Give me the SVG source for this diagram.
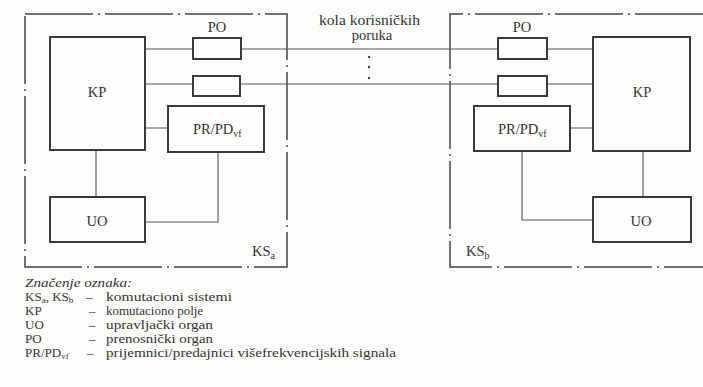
<svg xmlns="http://www.w3.org/2000/svg" width="703" height="387" viewBox="0 0 703 387">
<style>
.bg{fill:#fdfdfc}
.sys{fill:none;stroke:#444;stroke-width:1.5;stroke-dasharray:68 5 2 5}
.box{fill:none;stroke:#3a3a3a;stroke-width:2}
.ln{fill:none;stroke:#555;stroke-width:1.1}
.t{font-family:'Liberation Serif','DejaVu Serif','Times New Roman',serif;font-size:14.5px;fill:#333}
.lg{font-family:'Liberation Serif','DejaVu Serif','Times New Roman',serif;font-size:13px;fill:#333}
.it{font-style:italic}
.dot{fill:#444}
</style>
<rect class="bg" x="0" y="0" width="703" height="387"/>
<g id="ksa">
<rect class="sys" x="25" y="14" width="262" height="253"/>
<text class="t" x="252" y="256">KS<tspan dy="3" font-size="10">a</tspan></text>
</g>
<g id="ksb">
<path class="sys" d="M703,14 H450 V267 H703"/>
<text class="t" x="466" y="256">KS<tspan dy="3" font-size="10">b</tspan></text>
</g>
<g id="connectors">
<path class="ln" d="M145,49 H193 M241,49 H498 M547,49 H593"/>
<path class="ln" d="M145,84 H193 M240,84 H498 M547,84 H593"/>
<path class="ln" d="M145,128 H168 M570,128 H593"/>
<path class="ln" d="M96,150 V197 M218,152 V222 H145"/>
<path class="ln" d="M643,151 V197 M522,151 V220 H593"/>
<circle class="dot" cx="369" cy="57" r="1.2"/>
<circle class="dot" cx="369" cy="67" r="1.2"/>
<circle class="dot" cx="369" cy="78" r="1.2"/>
</g>
<g id="kp-a">
<rect class="box" x="50" y="37" width="95" height="113"/>
<text class="t" x="97" y="97" text-anchor="middle">KP</text>
</g>
<g id="po-a1">
<rect class="box" x="193" y="38" width="48" height="21"/>
<text class="t" x="217" y="32" text-anchor="middle">PO</text>
</g>
<g id="po-a2">
<rect class="box" x="193" y="76" width="47" height="20"/>
</g>
<g id="prpd-a">
<rect class="box" x="168" y="106" width="96" height="46"/>
<text class="t" x="193" y="134">PR/PD<tspan dy="3" font-size="10">vf</tspan></text>
</g>
<g id="uo-a">
<rect class="box" x="50" y="197" width="95" height="45"/>
<text class="t" x="97" y="226" text-anchor="middle">UO</text>
</g>
<g id="kp-b">
<rect class="box" x="593" y="37" width="97" height="114"/>
<text class="t" x="642" y="97" text-anchor="middle">KP</text>
</g>
<g id="po-b1">
<rect class="box" x="498" y="38" width="49" height="21"/>
<text class="t" x="522" y="32" text-anchor="middle">PO</text>
</g>
<g id="po-b2">
<rect class="box" x="498" y="76" width="49" height="20"/>
</g>
<g id="prpd-b">
<rect class="box" x="474" y="106" width="96" height="45"/>
<text class="t" x="498" y="134">PR/PD<tspan dy="3" font-size="10">vf</tspan></text>
</g>
<g id="uo-b">
<rect class="box" x="593" y="197" width="98" height="45"/>
<text class="t" x="641" y="226" text-anchor="middle">UO</text>
</g>
<g id="label-kola">
<text class="t" x="319" y="25" textLength="101" lengthAdjust="spacingAndGlyphs">kola korisničkih</text>
<text class="t" x="372" y="40" text-anchor="middle">poruka</text>
</g>
<g id="legend">
<text class="lg it" x="25" y="287" textLength="107" lengthAdjust="spacingAndGlyphs">Značenje oznaka:</text>
<text class="lg" x="25" y="301">KS<tspan dy="1.5" font-size="9">a</tspan><tspan dy="-1.5">, KS</tspan><tspan dy="1.5" font-size="9">b</tspan></text>
<text class="lg" x="86" y="301">–</text>
<text class="lg" x="106" y="301" textLength="126" lengthAdjust="spacingAndGlyphs">komutacioni sistemi</text>
<text class="lg" x="25" y="315">KP</text>
<text class="lg" x="89" y="315">–</text>
<text class="lg" x="106" y="315">komutaciono polje</text>
<text class="lg" x="25" y="329">UO</text>
<text class="lg" x="89" y="329">–</text>
<text class="lg" x="106" y="329" textLength="107" lengthAdjust="spacingAndGlyphs">upravljački organ</text>
<text class="lg" x="25" y="343">PO</text>
<text class="lg" x="89" y="343">–</text>
<text class="lg" x="106" y="343" textLength="107" lengthAdjust="spacingAndGlyphs">prenosnički organ</text>
<text class="lg" x="25" y="357">PR/PD<tspan dy="1.5" font-size="9">vf</tspan></text>
<text class="lg" x="87" y="357">–</text>
<text class="lg" x="106" y="357" textLength="290" lengthAdjust="spacingAndGlyphs">prijemnici/predajnici višefrekvencijskih signala</text>
</g>
</svg>
